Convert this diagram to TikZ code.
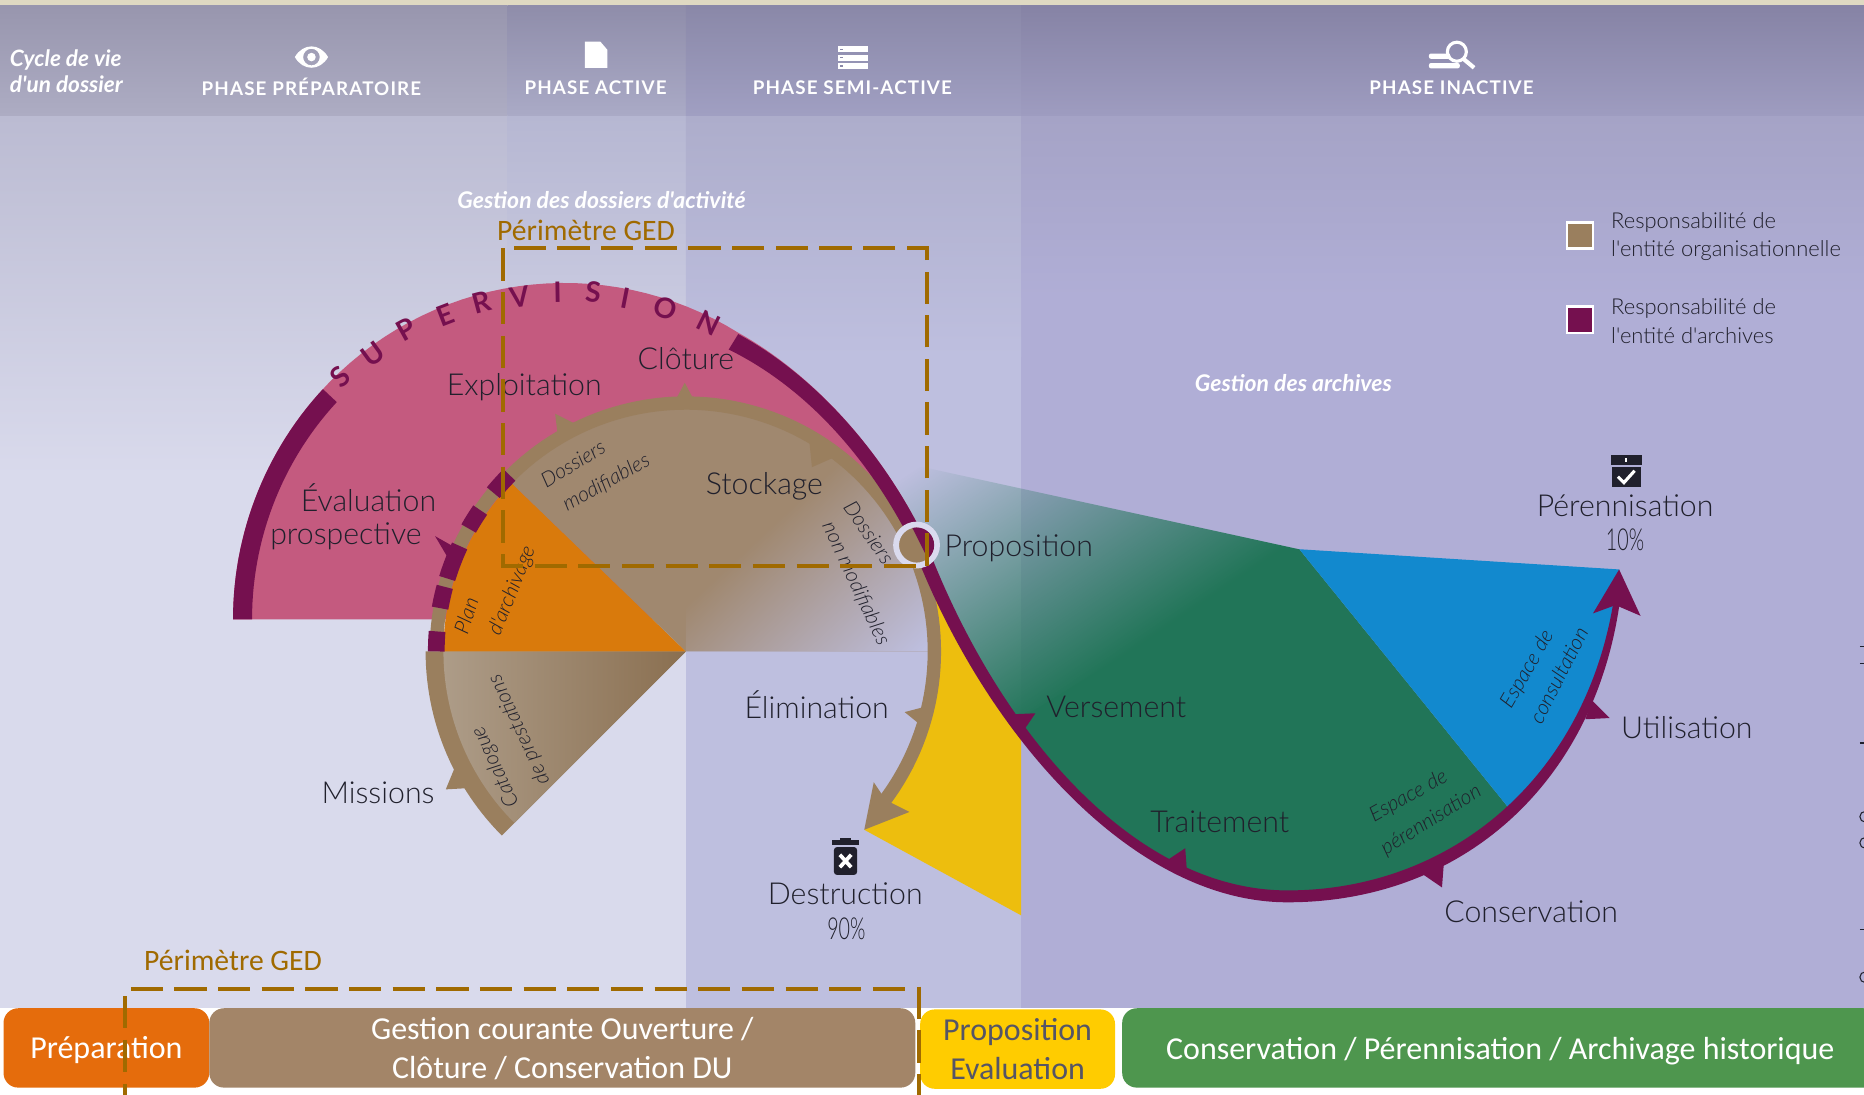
\documentclass[tikz,border=0pt]{standalone}
\usepackage{fontspec}
\usetikzlibrary{fadings}
\newfontfamily\lato{Lato}
\newfontfamily\latolight{Lato Light}
\newfontfamily\latonarrow[FakeStretch=0.65]{Lato Light}
\newfontfamily\latohead[LetterSpace=6]{Lato}
\newfontfamily\carl{Carlito}
\definecolor{plumc}{HTML}{75104F}
\definecolor{brownc}{HTML}{9A7F5E}
\definecolor{sectorc}{HTML}{A0886F}
\definecolor{seclight}{HTML}{AD9C88}
\definecolor{secdark}{HTML}{8A6F50}
\definecolor{pinkc}{HTML}{C45A7F}
\definecolor{orangec}{HTML}{D97A0C}
\definecolor{greenc}{HTML}{217558}
\definecolor{bluec}{HTML}{1289CE}
\definecolor{yellowc}{HTML}{EDBE0E}
\definecolor{inkc}{HTML}{20202C}
\definecolor{gedc}{HTML}{A06A00}
\definecolor{ringc}{HTML}{DADAEE}
\definecolor{topc}{HTML}{DFD9C2}
\definecolor{cola}{HTML}{D9DAEC}
\definecolor{colb}{HTML}{BEBFDF}
\definecolor{colc}{HTML}{B0AED6}
\definecolor{grada}{HTML}{BBBBD2}
\definecolor{gradb}{HTML}{B6B7D2}
\definecolor{gradc}{HTML}{ADADCB}
\definecolor{gradd}{HTML}{A5A3C6}
\definecolor{headatop}{HTML}{9896AE}
\definecolor{headabot}{HTML}{ADACC3}
\definecolor{headbtop}{HTML}{8F8DAA}
\definecolor{headbbot}{HTML}{AAAAC6}
\definecolor{headctop}{HTML}{8A88A8}
\definecolor{headcbot}{HTML}{A09FC2}
\definecolor{headdtop}{HTML}{8683A5}
\definecolor{headdbot}{HTML}{9E9CC0}
\definecolor{boxorange}{HTML}{E56C0C}
\definecolor{boxbrown}{HTML}{A38568}
\definecolor{boxyellow}{HTML}{FFCC00}
\definecolor{boxink}{HTML}{555566}
\definecolor{boxgreen}{HTML}{4E964E}
\tikzfading[name=rampfade, left color=transparent!100, right color=transparent!0]
\tikzset{
  lab/.style={font=\latolight\fontsize{14.5}{17}\selectfont, text=inkc, inner sep=0pt},
  pct/.style={font=\latonarrow\fontsize{14.5}{17}\selectfont, text=inkc, inner sep=0pt},
  note/.style={font=\latolight\itshape\fontsize{10}{11}\selectfont, text=inkc, inner sep=0pt},
  headlab/.style={font=\latohead\bfseries\fontsize{9}{11}\selectfont, text=white, inner sep=0pt},
  whitenote/.style={font=\lato\bfseries\itshape\fontsize{11}{13}\selectfont, text=white, inner sep=0pt},
  ged/.style={font=\carl\fontsize{14.2}{16}\selectfont, text=gedc, inner sep=0pt},
  gedline/.style={draw=gedc, line width=1.9pt, dash pattern=on 15.4pt off 5.5pt},
  legtext/.style={font=\latolight\fontsize{10.5}{13.6}\selectfont, text=inkc, inner sep=0pt, anchor=west, align=left},
  legbox/.style={draw=white, line width=1.2pt, minimum size=12.5pt, inner sep=0pt},
  phasebox/.style={rounded corners=7pt, inner sep=0pt, minimum height=38pt, align=center, text depth=0pt,
    font=\carl\fontsize{15.3}{18.8}\selectfont, text=white},
  barbplum/.style={fill=plumc, draw=none},
  barbbrown/.style={fill=brownc, draw=none}
}
\begin{document}
\begin{tikzpicture}[x=0.02cm, y=-0.02cm]
\useasboundingbox (0,0) rectangle (1568,921);
\def\cx{577}
\def\cy{548}
% Page and columns
\fill[white] (0,0) rectangle (1568,921);
\fill[topc] (0,0) rectangle (1568,5);
\fill[cola] (0,97) rectangle (577,848);
\fill[colb] (577,97) rectangle (859,848);
\fill[colc] (859,97) rectangle (1568,848);
\shade[top color=grada, bottom color=cola] (0,97) rectangle (427,400);
\shade[top color=gradb, bottom color=cola] (427,97) rectangle (577,400);
\shade[top color=gradc, bottom color=colb] (577,97) rectangle (859,300);
\shade[top color=gradd, bottom color=colc] (859,97) rectangle (1568,250);
% Header band
\shade[top color=headatop, bottom color=headabot] (0,5) rectangle (427,97);
\shade[top color=headbtop, bottom color=headbbot] (427,5) rectangle (577,97);
\shade[top color=headctop, bottom color=headcbot] (577,5) rectangle (859,97);
\shade[top color=headdtop, bottom color=headdbot] (859,5) rectangle (1568,97);

% Supervision sector
\fill[pinkc] (196,521) -- plot[domain=180:58.4,samples=50] ({475+279*cos(\x)},{521-283*sin(\x)})
  .. controls (684,315) and (741,378) .. (777,451) -- (577,521) -- cycle;
\fill[plumc] plot[domain=180:136.8,samples=30] ({475+279*cos(\x)},{521-283*sin(\x)})
  -- plot[domain=136.8:180,samples=30] ({475+263*cos(\x)},{521-267*sin(\x)}) -- cycle;

% Brown circle sectors
\fill[brownc] (\cx,\cy) -- plot[domain=225:180,samples=30] ({\cx+219*cos(\x)},{\cy-219*sin(\x)}) -- cycle;
\shade[left color=seclight, right color=secdark] (\cx,\cy) -- plot[domain=225:180,samples=30] ({\cx+204*cos(\x)},{\cy-204*sin(\x)}) -- cycle;
\fill[orangec] (\cx,\cy) -- plot[domain=180:136,samples=30] ({\cx+204*cos(\x)},{\cy-204*sin(\x)}) -- cycle;
\fill[sectorc] (\cx,\cy) -- plot[domain=136:0,samples=60] ({\cx+204*cos(\x)},{\cy-204*sin(\x)}) -- cycle;
\fill[colb, path fading=rampfade, fit fading=false, fading transform={shift={(705,500)},rotate=-47,scale=1.85}]
  (\cx,\cy) -- plot[domain=90:0,samples=40] ({\cx+204*cos(\x)},{\cy-204*sin(\x)}) -- cycle;

% Archive areas
\fill[greenc, path fading=rampfade, fit fading=false, fading transform={shift={(825,495)},rotate=-56,xscale=2.6,yscale=5}]
  (745,386) -- (1093,462) -- (1095,468) -- (860,616) -- (853.6,607.5) .. controls (820.2,561.5) and (792.3,508.6) .. (772,454) -- cycle;
\fill[greenc] (1093,462) -- (1271,682) .. controls (1222,728) and (1156.5,754) .. (1083,754)
  .. controls (996.6,754) and (915.6,692.8) .. (853.6,607.5) -- cycle;
\fill[bluec] (1093,462) -- (1362,479) -- (1362,490) .. controls (1353.5,570) and (1320.5,636) .. (1271,682) -- cycle;
\fill[yellowc] (782,490) .. controls (805,545) and (828,575) .. (854,607) -- (859,616) -- (859,770) -- (727,698)
  -- (745,680) -- (770,640) -- (787,590) -- (790,548) -- cycle;

% Brown ring with its arrow
\draw[brownc, line width=6.4pt] plot[domain=180:136,samples=30] ({\cx+210*cos(\x)},{\cy-210*sin(\x)});
\draw[brownc, line width=6.4pt] plot[domain=136:-37,samples=90] ({\cx+209*cos(\x)},{\cy-209*sin(\x)});
\fill[barbbrown] (727,698) -- (735,658) -- (745,673) -- (765,683) -- cycle;
\fill[barbbrown] (467,348) -- (483,356) -- (469,365) -- cycle;
\fill[barbbrown] (576,322) -- (584,337) -- (568,337) -- cycle;
\fill[barbbrown] (681,373) -- (701,385) -- (683,393) -- cycle;
\fill[barbbrown] (761,599) -- (780,594) -- (777,612) -- cycle;
\fill[barbbrown] (375,664) -- (382,647) -- (393,663) -- cycle;

% Plum marks on the ring
\foreach \aa/\bb in {175.4/180, 165/170, 155/163, 145.5/150.5, 135/140.5}
  \draw[plumc, line width=8pt] plot[domain=\aa:\bb,samples=8] ({\cx+210*cos(\x)},{\cy-210*sin(\x)});
\fill[barbplum] (366,451) -- (389,464) -- (382,478) -- cycle;

% Plum S curve
\fill[plumc] (621,281) .. controls (684,315) and (741,378) .. (777,451)
  .. controls (835,608) and (950,749) .. (1083,749)
  .. controls (1225,749) and (1341,648) .. (1359.5,490) -- (1364.5,490)
  .. controls (1349,652) and (1235,759) .. (1083,759)
  .. controls (950,759) and (825,612) .. (767,457)
  .. controls (729,382) and (676,325) .. (613,294) -- cycle;
\fill[barbplum] (1362,479) -- (1380,518) -- (1359,509) -- (1340,516) -- cycle;
\fill[barbplum] (847.5,601) -- (871,600) -- (858,619) -- cycle;
\fill[barbplum] (997,713.5) -- (979,725.5) -- (998.5,734) -- cycle;
\fill[barbplum] (1213,746.5) -- (1214.6,725.5) -- (1195.5,734.5) -- cycle;
\fill[barbplum] (1354,604) -- (1339,589) -- (1333.6,605) -- cycle;

% Proposition ring
\node[draw=ringc, fill=brownc, line width=2.8pt, circle, minimum size=19.6pt, inner sep=0pt] (propring) at (771,458.5) {};
\begin{scope}
\clip (771,458.5) circle (14.8);
\fill[plumc] (767,443) -- (781,471) -- (800,471) -- (800,443) -- cycle;
\end{scope}

% Header icons
\fill[white, even odd rule] (248,48) .. controls (255,36) and (269,36) .. (276,48) .. controls (269,60) and (255,60) .. (248,48) -- cycle (262,48) circle (7);
\fill[white] (262,48) circle (3.6);
\fill[white] (492,35) -- (505,35) -- (511,42) -- (511,57) -- (492,57) -- cycle;
\foreach \yy in {39,46,53} {
  \fill[white] (705,\yy) rectangle (730,\yy+5);
  \fill[headctop] (707,\yy+2) rectangle (709,\yy+3);
}
\fill[white, rounded corners=1pt] (1202,45) rectangle (1220,49.5);
\fill[white, rounded corners=1pt] (1202,53) rectangle (1228,57.5);
\draw[white, line width=1.5pt] (1225.5,43.5) circle (8);
\draw[white, line width=2pt] (1231,49.5) -- (1240,57);

% Trash and check icons
\fill[inkc] (700,706.5) rectangle (723,711);
\fill[inkc] (707,704.5) rectangle (716,707);
\fill[inkc, rounded corners=1.5pt] (701.5,712.5) rectangle (721,736);
\draw[white, line width=1.8pt] (706.5,719) -- (716,729.5) (716,719) -- (706.5,729.5);
\fill[inkc] (1355,383) rectangle (1381,391);
\fill[white] (1367,385.5) rectangle (1369,388.5);
\fill[inkc] (1356,393) rectangle (1380,410);
\draw[white, line width=1.5pt] (1361,401) -- (1366,406) -- (1375,396);

% Cut off marks at the right edge
\foreach \yy in {687,709,822} {
  \draw[inkc, line width=.5pt] (1569,\yy) circle (4.5);
}
\foreach \yy in {544,558,625,782} {
  \draw[inkc, line width=.5pt] (1564.5,\yy) -- (1568,\yy);
}

% Header labels
\node[font=\lato\bfseries\itshape\fontsize{10.8}{12.6}\selectfont, text=white, inner sep=0pt, anchor=west, align=left] (cycle) at (8,60) {Cycle de vie\\d'un dossier};
\node[headlab] (prep) at (262,73) {PHASE PRÉPARATOIRE};
\node[headlab] (active) at (501,74) {PHASE ACTIVE};
\node[headlab] (semi) at (717,74) {PHASE SEMI-ACTIVE};
\node[headlab] (inact) at (1221,74) {PHASE INACTIVE};
\node[whitenote] (gestdos) at (506,168) {Gestion des dossiers d'activité};
\node[whitenote] (gestarc) at (1088,322) {Gestion des archives};

% SUPERVISION
\foreach \ch/\xx/\yy/\rr [count=\i] in {S/286/317/43, U/314/298/36, P/342/277/29, E/375/265/21, R/405/254/15, V/437/250/8, I/469/246/1, S/499/246/-5, I/526/251/-11, O/560/259/-18, N/596/272/-26}
  \node[font=\lato\bfseries\fontsize{13.5}{15}\selectfont, text=plumc, inner sep=0pt, rotate=\rr] (sup\i) at (\xx,\yy) {\ch};

% Stage labels
\node[lab] (expl) at (441,326) {Exploitation};
\node[lab] (clot) at (577,302) {Clôture};
\node[lab] (eval) at (310,419) {Évaluation};
\node[lab] (pros) at (291,451) {prospective};
\node[lab] (stock) at (643,409) {Stockage};
\node[lab] (prop) at (857,461) {Proposition};
\node[lab] (miss) at (318,667) {Missions};
\node[lab] (elim) at (687,593) {Élimination};
\node[lab] (destr) at (711,752) {Destruction};
\node[pct] (dpct) at (712,781) {90\%};
\node[lab] (vers) at (939,595) {Versement};
\node[lab] (trait) at (1026,691) {Traitement};
\node[lab] (cons) at (1288,767) {Conservation};
\node[lab] (util) at (1419,612) {Utilisation};
\node[lab] (peren) at (1367,425) {Pérennisation};
\node[pct] (ppct) at (1367,454) {10\%};

% Notes inside the sectors
\node[note, rotate=31] (dm1) at (482,390) {Dossiers};
\node[note, rotate=29] (dm2) at (510,406) {modifiables};
\node[note, rotate=-55] (dn1) at (731,448) {Dossiers};
\node[note, rotate=-65] (dn2) at (720,491) {non modifiables};
\node[note, rotate=72] (pa1) at (392,518) {Plan};
\node[note, rotate=68] (pa2) at (431,497) {d'archivage};
\node[note, rotate=115] (cp1) at (417,645) {Catalogue};
\node[note, rotate=115] (cp2) at (437,614) {de prestations};
\node[note, rotate=60] (ec1) at (1285,563) {Espace de};
\node[note, rotate=63] (ec2) at (1311,568) {consultation};
\node[note, rotate=29] (ep1) at (1185,670) {Espace de};
\node[note, rotate=32] (ep2) at (1204,690) {pérennisation};

% Legend
\node[legbox, fill=brownc] (legbrown) at (1329,198) {};
\node[legbox, fill=plumc] (legplum) at (1329,269) {};
\node[legtext] (legbrowntxt) at (1355,199) {Responsabilité de\\l'entité organisationnelle};
\node[legtext] (legplumtxt) at (1355,270) {Responsabilité de\\l'entité d'archives};

% Perimeter frames
\draw[gedline] (423,209) rectangle (780,476);
\node[ged] (gedtop) at (493,194) {Périmètre GED};
\node[ged] (gedbot) at (196,808) {Périmètre GED};

% Bottom phases
\node[phasebox, fill=boxorange, minimum width=98.5pt] (bprep) at (89.5,881.5) {Préparation};
\node[phasebox, fill=boxbrown, minimum width=338pt] (bgest) at (473,881.5) {Gestion courante Ouverture /\\Clôture / Conservation DU};
\node[phasebox, fill=boxyellow, minimum width=93.3pt, text=boxink] (bprop) at (856,882.5) {Proposition\\Evaluation};
\node[phasebox, fill=boxgreen, minimum width=362pt] (bcons) at (1262,881.5) {Conservation / Pérennisation / Archivage historique};
\draw[gedline] (110,832) -- (770,832);
\draw[gedline] (105,838) -- (105,921);
\draw[gedline] (773,830) -- (773,921);
\end{tikzpicture}
\end{document}
